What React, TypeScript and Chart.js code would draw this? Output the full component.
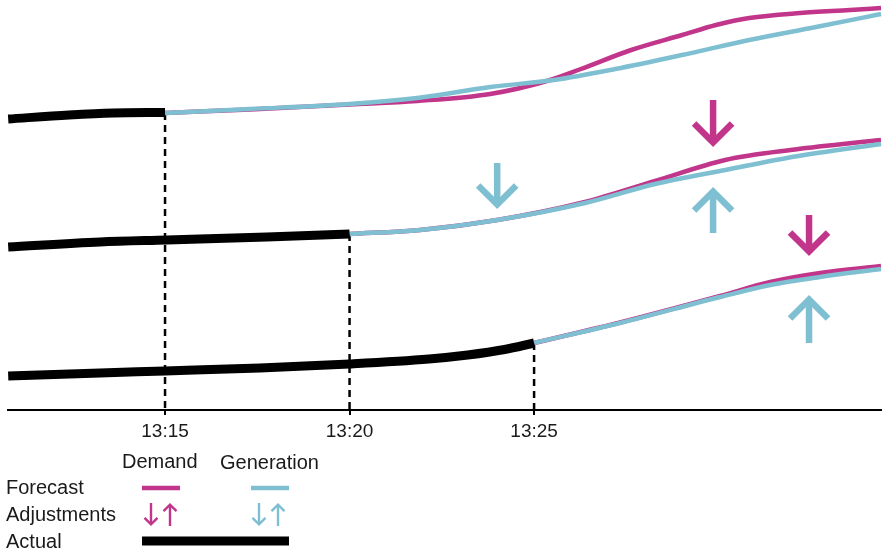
import React, { useEffect, useRef } from 'react';
import { Chart, registerables } from 'chart.js';

Chart.register(...registerables);

const DEMAND = '#c1358a';
const GEN = '#7fbfd2';
const FONT = '"Liberation Sans", Arial, Helvetica, sans-serif';

// x = minutes after 13:00, y = arbitrary level units
const tickValues = [15, 20, 25];
const tickLabels = ['13:15', '13:20', '13:25'];

// Scenario 1 (forecast from 13:15)
const actual1X = [10.75, 12.4, 13.6, 15.0];
const actual1Y = [291, 295, 297, 297.5];
const demand1X = [15.0, 17.3, 20.0, 21.83, 23.81, 25.35, 26.27, 27.63, 29.01, 29.93, 30.83, 32.21, 33.56, 34.4];
const demand1Y = [297, 300.5, 305.5, 309, 316, 329, 341, 360, 375, 385, 392, 397, 400, 402];
const gen1X = [15.0, 17.3, 20.0, 21.83, 23.81, 25.54, 27.2, 29.01, 30.83, 32.64, 34.4];
const gen1Y = [297, 301, 306, 312, 323, 330, 341, 355, 370, 383, 396];

// Scenario 2 (forecast from 13:20)
const actual2X = [10.75, 13.24, 15.05, 17.76, 20.0];
const actual2Y = [163, 168, 170, 173, 176];
const demand2X = [20.0, 21.91, 24.0, 26.38, 28.28, 30.18, 32.07, 34.4];
const demand2Y = [176, 180, 190, 208, 229, 250, 260.5, 270];
const gen2X = [20.0, 21.91, 24.0, 26.38, 28.28, 30.18, 32.07, 34.4];
const gen2Y = [176, 180, 190, 207, 226, 240, 253.5, 266];

// Scenario 3 (forecast from 13:25)
const actual3X = [10.75, 13.24, 15.0, 17.57, 20.0, 22.15, 23.2, 24.2, 25.0];
const actual3Y = [34, 37, 39, 42, 46, 51, 55, 60.5, 67];
const demand3X = [25.0, 27.33, 30.04, 31.4, 32.75, 34.4];
const demand3Y = [67, 87.5, 114, 128, 137, 144];
const gen3X = [25.0, 27.33, 30.04, 31.4, 32.75, 34.4];
const gen3Y = [67, 87, 113, 125, 133, 141];

// Guides from each forecast start down to the axis
const guideX = [15, 20, 25];
const guideTop = [297, 176, 67];

// Adjustment arrows
const arrowX = [24.0, 29.85, 29.85, 32.45, 32.45];
const arrowFrom = [247, 310, 177, 195, 67];
const arrowTo = [201, 263, 223, 154, 115];
const arrowSeries = ['generation', 'demand', 'generation', 'demand', 'generation'];

// Legend
const legendColumns = ['Demand', 'Generation'];
const legendRows = ['Forecast', 'Adjustments', 'Actual'];

const pts = (xs: number[], ys: number[]) => xs.map((x, i) => ({ x, y: ys[i] }));

function drawArrow(ctx: CanvasRenderingContext2D, x: number, yTail: number, yTip: number, color: string, lw: number, arm: number) {
  const dir = yTip > yTail ? 1 : -1;
  const tip = yTip - dir * lw * 0.7;
  ctx.save();
  ctx.strokeStyle = color;
  ctx.lineWidth = lw;
  ctx.lineCap = 'butt';
  ctx.lineJoin = 'miter';
  ctx.beginPath();
  ctx.moveTo(x, yTail);
  ctx.lineTo(x, tip - dir * lw * 0.3);
  ctx.stroke();
  ctx.beginPath();
  ctx.moveTo(x - arm, tip - dir * arm);
  ctx.lineTo(x, tip);
  ctx.lineTo(x + arm, tip - dir * arm);
  ctx.stroke();
  ctx.restore();
}

const overlayPlugin = {
  id: 'overlay',
  afterDatasetsDraw(chart: any) {
    const { ctx, scales } = chart;
    const xs = scales.x;
    const ys = scales.y;
    arrowX.forEach((v, i) => {
      const color = arrowSeries[i] === 'demand' ? DEMAND : GEN;
      drawArrow(ctx, xs.getPixelForValue(v), ys.getPixelForValue(arrowFrom[i]), ys.getPixelForValue(arrowTo[i]), color, 6.5, 19);
    });
  },
  afterDraw(chart: any) {
    const { ctx } = chart;
    ctx.save();
    ctx.fillStyle = '#1a1a1a';
    ctx.font = `20px ${FONT}`;
    ctx.textBaseline = 'alphabetic';
    ctx.textAlign = 'left';
    ctx.fillText(legendColumns[0], 122, 468);
    ctx.fillText(legendColumns[1], 220, 469);
    ctx.fillText(legendRows[0], 6, 494);
    ctx.fillText(legendRows[1], 6, 521);
    ctx.fillText(legendRows[2], 6, 548);
    // forecast swatches
    ctx.lineWidth = 4.5;
    ctx.lineCap = 'butt';
    ctx.strokeStyle = DEMAND;
    ctx.beginPath(); ctx.moveTo(142, 488); ctx.lineTo(180, 488); ctx.stroke();
    ctx.strokeStyle = GEN;
    ctx.beginPath(); ctx.moveTo(251, 488); ctx.lineTo(289, 488); ctx.stroke();
    // actual swatch
    ctx.strokeStyle = '#000';
    ctx.lineWidth = 9;
    ctx.beginPath(); ctx.moveTo(142, 541); ctx.lineTo(289, 541); ctx.stroke();
    ctx.restore();
    // adjustment arrows
    drawArrow(ctx, 151, 503, 526, DEMAND, 2.4, 6.5);
    drawArrow(ctx, 170, 526, 503, DEMAND, 2.4, 6.5);
    drawArrow(ctx, 259, 503, 526, GEN, 2.4, 6.5);
    drawArrow(ctx, 278, 526, 503, GEN, 2.4, 6.5);
  },
};

export default function App() {
  const ref = useRef<HTMLCanvasElement | null>(null);

  useEffect(() => {
    if (!ref.current) return;
    const line = (data: any[], color: string, width: number, order: number, extra: any = {}) => ({
      data,
      borderColor: color,
      backgroundColor: color,
      borderWidth: width,
      pointRadius: 0,
      fill: false,
      cubicInterpolationMode: 'monotone',
      clip: false,
      order,
      ...extra,
    });
    const datasets: any[] = [
      line(pts(actual1X, actual1Y), '#000', 9, 0),
      line(pts(actual2X, actual2Y), '#000', 9, 0),
      line(pts(actual3X, actual3Y), '#000', 9, 0),
      line(pts(gen1X, gen1Y), GEN, 4.5, 1),
      line(pts(gen2X, gen2Y), GEN, 4.5, 1),
      line(pts(gen3X, gen3Y), GEN, 4.5, 1),
      line(pts(demand1X, demand1Y), DEMAND, 4.5, 2),
      line(pts(demand2X, demand2Y), DEMAND, 4.5, 2),
      line(pts(demand3X, demand3Y), DEMAND, 4.5, 2),
      ...guideX.map((gx, i) =>
        line([{ x: gx, y: guideTop[i] }, { x: gx, y: 0 }], '#000', 2.5, 3, { borderDash: [7, 5], cubicInterpolationMode: 'default', tension: 0 })
      ),
    ];

    const chart = new Chart(ref.current, {
      type: 'line',
      data: { datasets },
      options: {
        animation: false,
        responsive: true,
        maintainAspectRatio: false,
        layout: { padding: { left: 8, right: 6, top: 0, bottom: 0 } },
        plugins: { legend: { display: false }, tooltip: { enabled: false } },
        events: [],
        scales: {
          x: {
            type: 'linear',
            min: 10.745,
            max: 34.4,
            afterBuildTicks: (s: any) => {
              s.ticks = tickValues.map((v) => ({ value: v }));
            },
            afterFit: (s: any) => {
              s.height = 143;
            },
            grid: { display: true, drawOnChartArea: false, drawTicks: true, tickLength: 5, color: '#000', lineWidth: 2 },
            border: { display: true, color: '#000', width: 2 },
            ticks: {
              padding: 5,
              color: '#1a1a1a',
              font: { family: FONT, size: 19 },
              maxRotation: 0,
              autoSkip: false,
              callback: (_v: any, i: number) => tickLabels[i],
            },
          },
          y: { type: 'linear', display: false, min: 0, max: 410 },
        },
      },
      plugins: [overlayPlugin],
    });
    return () => chart.destroy();
  }, []);

  return (
    <div style={{ position: 'absolute', left: 0, top: 0, width: 887, height: 553 }}>
      <canvas ref={ref} />
    </div>
  );
}
